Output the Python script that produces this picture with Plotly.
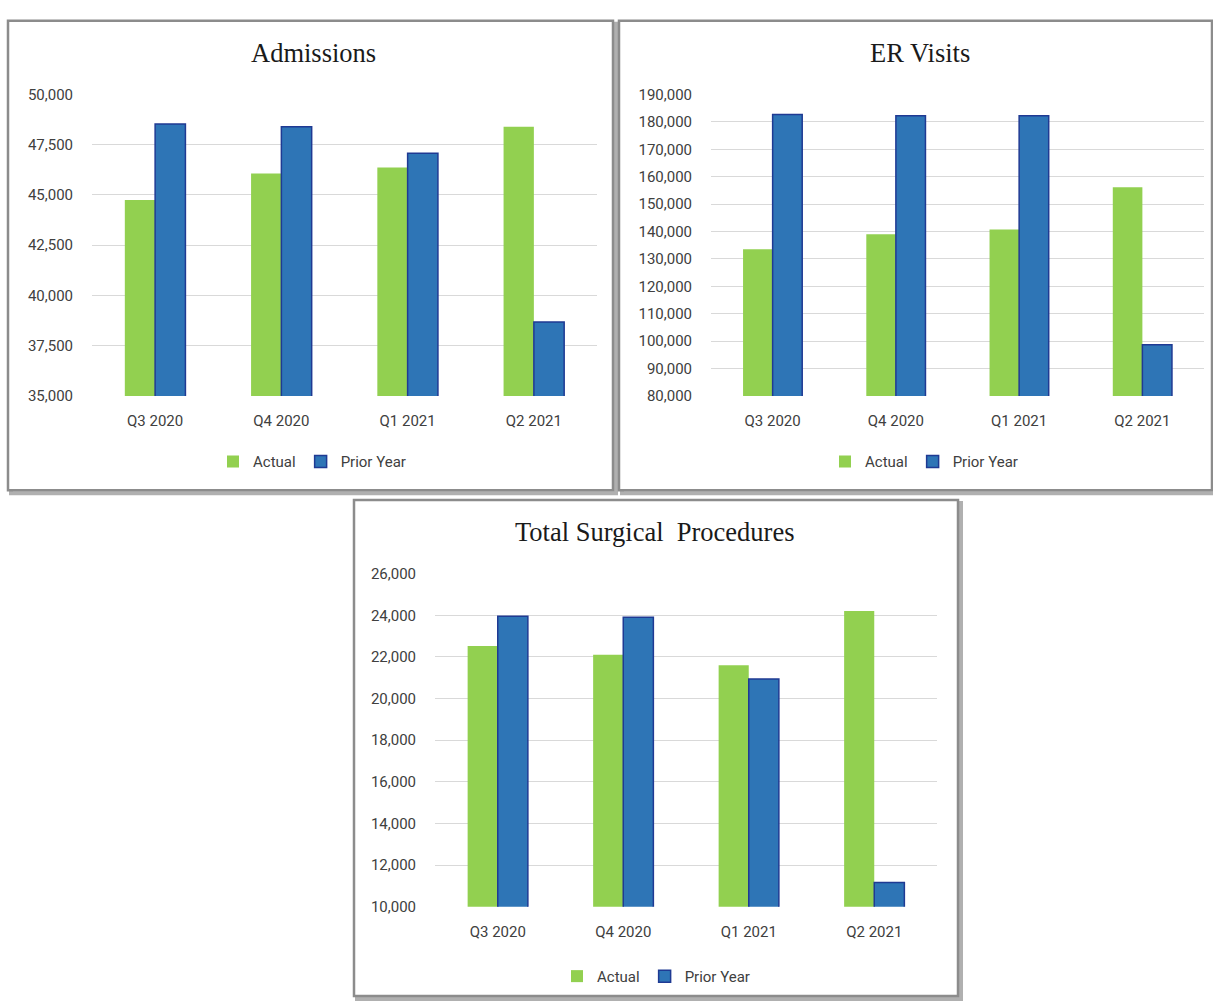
import plotly.graph_objects as go

quarters = ["Q3 2020", "Q4 2020", "Q1 2021", "Q2 2021"]

adm_actual = [44750, 46070, 46360, 48390]
adm_prior = [48530, 48390, 47070, 38680]

er_actual = [133500, 139000, 140700, 156100]
er_prior = [182700, 182200, 182200, 98700]

surg_actual = [22530, 22100, 21600, 24210]
surg_prior = [23960, 23910, 20940, 11160]

W, H = 1213, 1006
GREEN = "#92D050"
BLUE = "#2E75B6"
OUTLINE = "#1F3A93"
TICK_FONT = dict(family="Liberation Sans Narrow, Roboto, Open Sans, sans-serif", size=15, color="#404040")

def px(x):
    return x / W

def py(y):
    return 1 - y / H

fig = go.Figure()

panels = [
    dict(name="Admissions", act=adm_actual, pri=adm_prior, xa="x", ya="y", legend="legend",
         plot=(92, 597, 87, 394), rng=[35000, 50000], dtick=2500, box=(8, 613, 12, 490),
         title=(313, 45), leg=(312, 461)),
    dict(name="ER Visits", act=er_actual, pri=er_prior, xa="x2", ya="y2", legend="legend2",
         plot=(711, 1204, 87, 394), rng=[80000, 190000], dtick=10000, box=(619, 1212, 12, 490),
         title=(920, 45), leg=(924, 461)),
    dict(name="Total Surgical  Procedures", act=surg_actual, pri=surg_prior, xa="x3", ya="y3", legend="legend3",
         plot=(435, 937, 575, 914), rng=[10000, 26000], dtick=2000, box=(354, 958, 500, 1005),
         title=(655, 533), leg=(656, 985)),
]

shapes = []
annotations = []
layout_axes = {}

for i, p in enumerate(panels):
    fig.add_trace(go.Bar(x=quarters, y=p["act"], name="Actual", marker=dict(color=GREEN, line=dict(width=0)),
                         xaxis=p["xa"], yaxis=p["ya"], legend=p["legend"]))
    fig.add_trace(go.Bar(x=quarters, y=p["pri"], name="Prior Year", marker=dict(color=BLUE, line=dict(color=OUTLINE, width=1.5)),
                         xaxis=p["xa"], yaxis=p["ya"], legend=p["legend"]))
    x0, x1, y0, y1 = p["plot"]
    suffix = "" if i == 0 else str(i + 1)
    layout_axes["xaxis" + suffix] = dict(domain=[px(x0), px(x1)], anchor="y" + suffix, showgrid=False,
                                         tickfont=TICK_FONT, ticks="", showline=False, fixedrange=True,
                                         ticklabelstandoff=14)
    layout_axes["yaxis" + suffix] = dict(domain=[py(y1), py(y0)], anchor="x" + suffix, range=p["rng"], dtick=p["dtick"],
                                         tickformat=",", showgrid=True, gridcolor="#D9D9D9", gridwidth=1.2,
                                         zeroline=False, tickfont=TICK_FONT, ticks="", ticklen=0, showline=False,
                                         ticklabelstandoff=18)
    leg_key = p["legend"]
    layout_axes[leg_key] = dict(orientation="h", x=px(p["leg"][0]), y=py(p["leg"][1]), xanchor="center", yanchor="middle",
                                font=dict(family=TICK_FONT["family"], size=15, color="#404040"),
                                bgcolor="rgba(0,0,0,0)", itemwidth=30, tracegroupgap=0)
    bx0, bx1, by0, by1 = p["box"]
    # shadow
    shapes.append(dict(type="rect", xref="paper", yref="paper", x0=px(bx0 + 3), x1=px(bx1 + 3), y0=py(by1 + 3), y1=py(by0 + 3),
                       line=dict(color="#B0B0B0", width=4), layer="below"))
    shapes.append(dict(type="rect", xref="paper", yref="paper", x0=px(bx0), x1=px(bx1), y0=py(by1), y1=py(by0),
                       line=dict(color="#8C8C8C", width=2.5), fillcolor="white", layer="below"))
    annotations.append(dict(text=p["name"], xref="paper", yref="paper", x=px(p["title"][0]), y=py(p["title"][1]),
                            xanchor="center", yanchor="middle", showarrow=False,
                            font=dict(family="Liberation Serif, Times New Roman, serif", size=26.5, color="#1a1a1a")))

fig.update_layout(
    width=W, height=H, margin=dict(l=0, r=0, t=0, b=0),
    paper_bgcolor="white", plot_bgcolor="rgba(0,0,0,0)",
    barmode="group", bargap=0.52, bargroupgap=0,
    shapes=shapes, annotations=annotations, **layout_axes,
)

fig.write_html("out.html", config={"displayModeBar": False},
               post_script="document.body.style.margin='0';document.body.style.overflow='hidden';")
